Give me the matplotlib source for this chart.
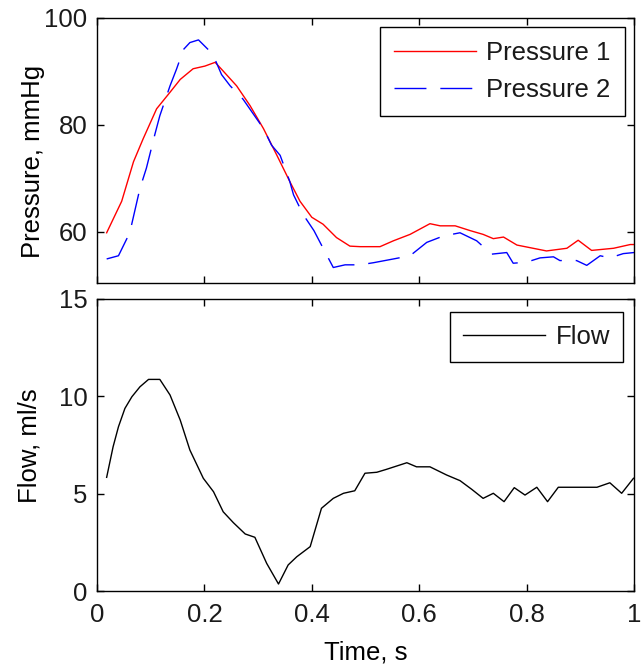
import matplotlib
matplotlib.use('Agg')
import matplotlib.pyplot as plt


# Pressure 1 (red, solid)
t_p1 = [0.018, 0.046, 0.068, 0.086, 0.111, 0.136, 0.155, 0.179, 0.201,
        0.220, 0.232, 0.260, 0.285, 0.310, 0.335, 0.359, 0.378, 0.400,
        0.421, 0.446, 0.471, 0.490, 0.527, 0.552, 0.583, 0.620, 0.639,
        0.667, 0.695, 0.719, 0.738, 0.757, 0.782, 0.812, 0.837, 0.875,
        0.896, 0.921, 0.962, 0.993, 1.0]
p1 = [59.8, 65.7, 73.1, 77.4, 83.0, 86.1, 88.5, 90.5, 91.0,
      91.7, 90.4, 87.3, 83.6, 79.3, 74.3, 69.4, 65.7, 62.7,
      61.4, 58.9, 57.3, 57.2, 57.2, 58.3, 59.5, 61.5, 61.1,
      61.1, 60.2, 59.5, 58.7, 59.0, 57.5, 56.9, 56.4, 56.9,
      58.4, 56.5, 56.9, 57.6, 57.6]

# Pressure 2 (blue, dashed)
t_p2 = [0.018, 0.040, 0.061, 0.080, 0.092, 0.108, 0.117, 0.136, 0.148,
        0.161, 0.173, 0.189, 0.207, 0.220, 0.232, 0.248, 0.272, 0.310,
        0.325, 0.341, 0.359, 0.366, 0.384, 0.404, 0.418, 0.440, 0.462,
        0.490, 0.515, 0.552, 0.583, 0.614, 0.645, 0.676, 0.707, 0.735,
        0.763, 0.775, 0.800, 0.825, 0.850, 0.862, 0.893, 0.912, 0.937,
        0.955, 0.980, 1.0]
p2 = [54.9, 55.5, 59.8, 68.1, 71.9, 78.3, 81.7, 87.3, 90.4,
      94.1, 95.4, 95.9, 94.1, 92.2, 89.4, 87.3, 84.8, 79.3,
      76.2, 74.3, 69.4, 66.9, 63.2, 60.2, 57.5, 53.3, 53.8,
      53.8, 54.2, 54.9, 55.5, 58.0, 59.2, 59.8, 58.3, 55.8,
      56.1, 54.1, 54.3, 55.1, 55.3, 54.6, 54.6, 53.7, 55.5,
      55.1, 55.9, 56.1]

# Flow (black)
t_flow = [0.018, 0.030, 0.040, 0.052, 0.065, 0.080, 0.096, 0.117, 0.136,
          0.155, 0.173, 0.198, 0.217, 0.235, 0.254, 0.276, 0.294, 0.316,
          0.338, 0.356, 0.372, 0.397, 0.418, 0.440, 0.459, 0.480, 0.499,
          0.521, 0.539, 0.577, 0.595, 0.620, 0.651, 0.676, 0.698, 0.719,
          0.738, 0.758, 0.777, 0.797, 0.819, 0.839, 0.859, 0.931, 0.955,
          0.977, 0.999]
flow = [5.84, 7.41, 8.44, 9.38, 9.98, 10.49, 10.87, 10.87, 10.07,
        8.78, 7.24, 5.79, 5.10, 4.07, 3.51, 2.93, 2.76, 1.42,
        0.36, 1.34, 1.76, 2.28, 4.25, 4.76, 5.02, 5.15, 6.05,
        6.10, 6.25, 6.59, 6.38, 6.38, 5.96, 5.67, 5.22, 4.76,
        5.02, 4.59, 5.31, 4.93, 5.33, 4.59, 5.33, 5.33, 5.56,
        5.02, 5.79]

x_ticks = [0, 0.2, 0.4, 0.6, 0.8, 1]
x_labels = ['0', '0.2', '0.4', '0.6', '0.8', '1']
p_ticks = [60, 80, 100]
f_ticks = [0, 5, 10, 15]

plt.rcParams['font.family'] = ['Liberation Sans', 'DejaVu Sans']
plt.rcParams['font.size'] = 18.5
plt.rcParams['text.color'] = '#1a1a1a'
plt.rcParams['xtick.labelcolor'] = '#1a1a1a'
plt.rcParams['ytick.labelcolor'] = '#1a1a1a'


def style_axes(ax):
    for s in ax.spines.values():
        s.set_linewidth(1.0)
    ax.tick_params(direction='in', length=5, width=1, top=True, right=True,
                   labelsize=18.5)
    ax.tick_params(axis='y', pad=7)
    ax.tick_params(axis='x', pad=8.5)
    ax.set_xlim(0, 1)
    ax.set_xticks(x_ticks)


def make_legend(ax, anchor, pad):
    leg = ax.legend(loc='upper right', bbox_to_anchor=anchor, fancybox=False,
                    framealpha=1, edgecolor='black', handlelength=3.2,
                    handletextpad=0.4, borderpad=pad, labelspacing=0.5,
                    borderaxespad=0, fontsize=18.5)
    leg.get_frame().set_linewidth(1.0)


def main():
    fig = plt.figure(figsize=(6.44, 6.64), dpi=100)
    ax1 = fig.add_axes([0.1506, 0.5738, 0.8339, 0.3991])
    ax2 = fig.add_axes([0.1506, 0.1099, 0.8339, 0.4398])

    ax1.plot(t_p1, p1, color='#ff0000', lw=1.0, label='Pressure 1')
    ax1.plot(t_p2, p2, color='#0000ff', lw=1.0, dashes=(23, 10),
             label='Pressure 2')
    style_axes(ax1)
    ax1.set_ylim(50.4, 100)
    ax1.set_yticks(p_ticks)
    ax1.set_xticklabels([])
    ax1.set_ylabel('Pressure, mmHg')
    ax1.yaxis.set_label_coords(-0.097, 0.46)
    make_legend(ax1, (0.9832, 0.966), 0.55)

    ax2.plot(t_flow, flow, color='black', lw=1.0, label='Flow')
    style_axes(ax2)
    ax2.set_ylim(0, 15)
    ax2.set_yticks(f_ticks)
    ax2.set_xticklabels(x_labels)
    ax2.set_ylabel('Flow, ml/s')
    ax2.yaxis.set_label_coords(-0.1024, 0.497)
    ax2.set_xlabel('Time, s', labelpad=10)
    make_legend(ax2, (0.9795, 0.9555), 0.5)

    fig.savefig('out.png', dpi=100)


if __name__ == '__main__':
    main()
